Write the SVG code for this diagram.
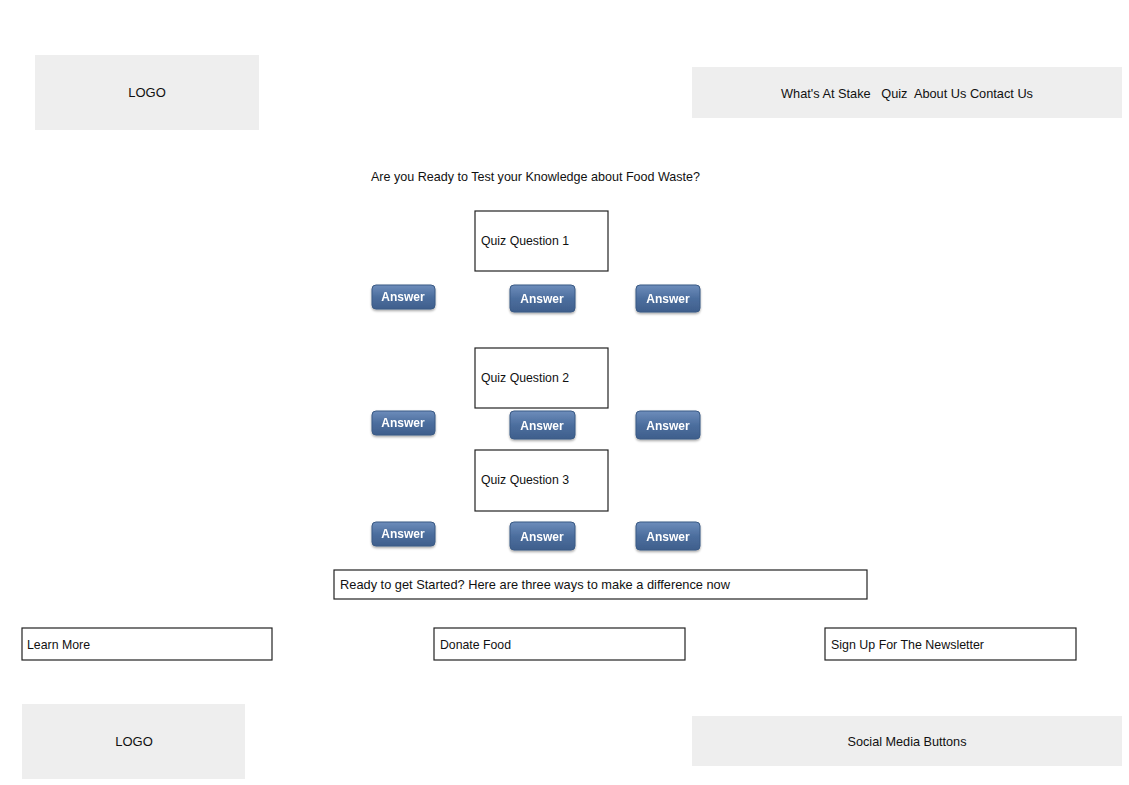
<svg xmlns="http://www.w3.org/2000/svg" width="1129" height="785" viewBox="0 0 1129 785">
<style>
text{font-family:"Liberation Sans",Arial,sans-serif;font-size:13px;fill:#111}
.grey{fill:#eeeeee;stroke:none}
.box{fill:#fff;stroke:#222;stroke-width:1.2}
.btn{fill:url(#bg);stroke:#3a5a85;stroke-width:1}
.bt{fill:#fff;font-weight:bold;font-size:12px;text-anchor:middle}
.c{text-anchor:middle}
.pre{white-space:pre}
</style>
<defs>
<linearGradient id="bg" x1="0" y1="0" x2="0" y2="1">
<stop offset="0" stop-color="#6d8dbb"/>
<stop offset="0.5" stop-color="#4c6e9e"/>
<stop offset="1" stop-color="#3f5f8c"/>
</linearGradient>
<filter id="sh" x="-10%" y="-10%" width="130%" height="140%"><feDropShadow dx="0" dy="1.5" stdDeviation="1" flood-color="#000" flood-opacity="0.35"/></filter>
</defs>
<rect width="1129" height="785" fill="#fff"/>
<g id="logo-top"><rect class="grey" x="35" y="55" width="224" height="75"/><text class="c" x="147" y="97">LOGO</text></g>
<g id="nav"><rect class="grey" x="692" y="67" width="430" height="51"/><text class="c pre" x="907" y="98" xml:space="preserve" textLength="252" lengthAdjust="spacingAndGlyphs">What's At Stake   Quiz  About Us Contact Us</text></g>
<g id="title"><text x="371" y="181" textLength="329" lengthAdjust="spacingAndGlyphs">Are you Ready to Test your Knowledge about Food Waste?</text></g>
<g id="q1"><rect class="box" x="475" y="211" width="133" height="60"/><text x="481" y="245" textLength="88" lengthAdjust="spacingAndGlyphs">Quiz Question 1</text></g>
<g id="q2"><rect class="box" x="475" y="348" width="133" height="60"/><text x="481" y="382" textLength="88" lengthAdjust="spacingAndGlyphs">Quiz Question 2</text></g>
<g id="q3"><rect class="box" x="475" y="450" width="133" height="61"/><text x="481" y="484" textLength="88" lengthAdjust="spacingAndGlyphs">Quiz Question 3</text></g>
<g id="a1a" filter="url(#sh)"><rect class="btn" x="372" y="285" width="63" height="24" rx="4"/><text class="bt" x="403" y="301">Answer</text></g>
<g id="a1b" filter="url(#sh)"><rect class="btn" x="510" y="285" width="65" height="27" rx="4"/><text class="bt" x="542" y="303">Answer</text></g>
<g id="a1c" filter="url(#sh)"><rect class="btn" x="636" y="285" width="64" height="27" rx="4"/><text class="bt" x="668" y="303">Answer</text></g>
<g id="a2a" filter="url(#sh)"><rect class="btn" x="372" y="411" width="63" height="24" rx="4"/><text class="bt" x="403" y="427">Answer</text></g>
<g id="a2b" filter="url(#sh)"><rect class="btn" x="510" y="411" width="65" height="28" rx="4"/><text class="bt" x="542" y="430">Answer</text></g>
<g id="a2c" filter="url(#sh)"><rect class="btn" x="636" y="411" width="64" height="28" rx="4"/><text class="bt" x="668" y="430">Answer</text></g>
<g id="a3a" filter="url(#sh)"><rect class="btn" x="372" y="522" width="63" height="24" rx="4"/><text class="bt" x="403" y="538">Answer</text></g>
<g id="a3b" filter="url(#sh)"><rect class="btn" x="510" y="522" width="65" height="28" rx="4"/><text class="bt" x="542" y="541">Answer</text></g>
<g id="a3c" filter="url(#sh)"><rect class="btn" x="636" y="522" width="64" height="28" rx="4"/><text class="bt" x="668" y="541">Answer</text></g>
<g id="banner"><rect class="box" x="334" y="570" width="533" height="29"/><text x="340" y="589" textLength="390" lengthAdjust="spacingAndGlyphs">Ready to get Started? Here are three ways to make a difference now</text></g>
<g id="learn"><rect class="box" x="22" y="628" width="250" height="32"/><text x="27" y="649" textLength="63" lengthAdjust="spacingAndGlyphs">Learn More</text></g>
<g id="donate"><rect class="box" x="434" y="628" width="251" height="32"/><text x="440" y="649" textLength="71" lengthAdjust="spacingAndGlyphs">Donate Food</text></g>
<g id="signup"><rect class="box" x="825" y="628" width="251" height="32"/><text x="831" y="649" textLength="153" lengthAdjust="spacingAndGlyphs">Sign Up For The Newsletter</text></g>
<g id="logo-bottom"><rect class="grey" x="22" y="704" width="223" height="75"/><text class="c" x="134" y="746">LOGO</text></g>
<g id="social"><rect class="grey" x="692" y="716" width="430" height="50"/><text class="c" x="907" y="746" textLength="119" lengthAdjust="spacingAndGlyphs">Social Media Buttons</text></g>
<g id="connectors"></g>
</svg>
